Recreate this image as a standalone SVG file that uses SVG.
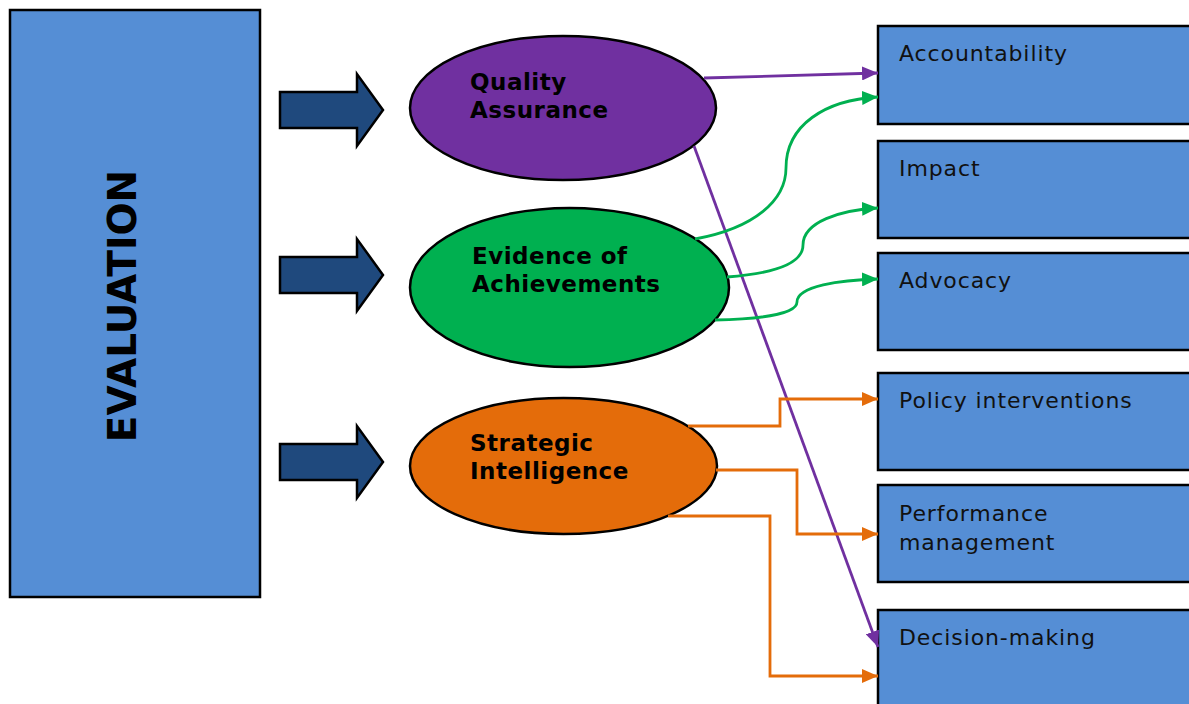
<svg xmlns="http://www.w3.org/2000/svg" width="1189" height="704" viewBox="0 0 1189 704">
<style>
.box{fill:#558ED5;stroke:#000;stroke-width:2.5}
.blk{fill:#1F497D;stroke:#000;stroke-width:2.5;stroke-linejoin:miter}
.ell{stroke:#000;stroke-width:2.5}
.lbl{font-family:"DejaVu Sans",Verdana,sans-serif;font-size:22px;fill:#111;letter-spacing:0.9px}
.bold{font-family:"DejaVu Sans",Verdana,sans-serif;font-size:23px;font-weight:bold;fill:#000;letter-spacing:0.5px}
.c{fill:none;stroke-width:2.8}
.pu{stroke:#7030A0}
.gr{stroke:#00B050}
.or{stroke:#E46C0A}
</style>
<defs>
<marker id="mp" markerUnits="userSpaceOnUse" markerWidth="16" markerHeight="14" refX="16" refY="7" orient="auto"><path d="M0,0 L16,7 L0,14 z" fill="#7030A0"/></marker>
<marker id="mg" markerUnits="userSpaceOnUse" markerWidth="16" markerHeight="14" refX="16" refY="7" orient="auto"><path d="M0,0 L16,7 L0,14 z" fill="#00B050"/></marker>
<marker id="mo" markerUnits="userSpaceOnUse" markerWidth="16" markerHeight="14" refX="16" refY="7" orient="auto"><path d="M0,0 L16,7 L0,14 z" fill="#E46C0A"/></marker>
</defs>
<rect width="1189" height="704" fill="#fff"/>
<g id="evaluation">
<rect class="box" x="10" y="10" width="250" height="587"/>
<text font-family="'DejaVu Sans',Verdana,sans-serif" font-size="39" font-weight="bold" fill="#000" text-anchor="middle" transform="translate(136,306) rotate(-90)">EVALUATION</text>
</g>
<g id="block-arrows">
<path class="blk" d="M280,92 L357,92 L357,74 L383,110 L357,146 L357,128 L280,128 Z"/>
<path class="blk" d="M280,257 L357,257 L357,239 L383,275 L357,311 L357,293 L280,293 Z"/>
<path class="blk" d="M280,444 L357,444 L357,426 L383,462 L357,498 L357,480 L280,480 Z"/>
</g>
<g id="quality-assurance">
<ellipse class="ell" cx="563" cy="108" rx="153" ry="72" fill="#7030A0"/>
<text class="bold" x="470" y="90">Quality</text>
<text class="bold" x="470" y="118">Assurance</text>
</g>
<g id="evidence">
<ellipse class="ell" cx="569.5" cy="287.5" rx="159.5" ry="79.5" fill="#00B050"/>
<text class="bold" x="472" y="264">Evidence of</text>
<text class="bold" x="472" y="292">Achievements</text>
</g>
<g id="strategic">
<ellipse class="ell" cx="563.5" cy="466" rx="153.5" ry="68" fill="#E46C0A"/>
<text class="bold" x="470" y="451">Strategic</text>
<text class="bold" x="470" y="479">Intelligence</text>
</g>
<g id="accountability"><rect class="box" x="878" y="26" width="320" height="98"/><text class="lbl" x="899" y="61">Accountability</text></g>
<g id="impact"><rect class="box" x="878" y="141" width="320" height="97"/><text class="lbl" x="899" y="176">Impact</text></g>
<g id="advocacy"><rect class="box" x="878" y="253" width="320" height="97"/><text class="lbl" x="899" y="288">Advocacy</text></g>
<g id="policy"><rect class="box" x="878" y="373" width="320" height="97"/><text class="lbl" x="899" y="408">Policy interventions</text></g>
<g id="performance"><rect class="box" x="878" y="485" width="320" height="97"/><text class="lbl" x="899" y="521">Performance</text><text class="lbl" x="899" y="550">management</text></g>
<g id="decision"><rect class="box" x="878" y="610" width="320" height="100"/><text class="lbl" x="899" y="645">Decision-making</text></g>
<g id="connectors">
<path class="c pu" d="M704,78 L878,73" marker-end="url(#mp)"/>
<path class="c pu" d="M694,146 L878,647" marker-end="url(#mp)"/>
<path class="c gr" d="M695,239 C755,228 786,200 786,168 C786,125 825,100 878,97" marker-end="url(#mg)"/>
<path class="c gr" d="M727,277 C780,273 803,262 803,245 C803,222 840,210 878,208" marker-end="url(#mg)"/>
<path class="c gr" d="M715,320 C770,319 797,312 797,302 C797,286 840,280 878,279" marker-end="url(#mg)"/>
<path class="c or" d="M688,426 L780,426 L780,399 L878,399" marker-end="url(#mo)"/>
<path class="c or" d="M716,470 L797,470 L797,534 L878,534" marker-end="url(#mo)"/>
<path class="c or" d="M668,516 L770,516 L770,676 L878,676" marker-end="url(#mo)"/>
</g>
</svg>
